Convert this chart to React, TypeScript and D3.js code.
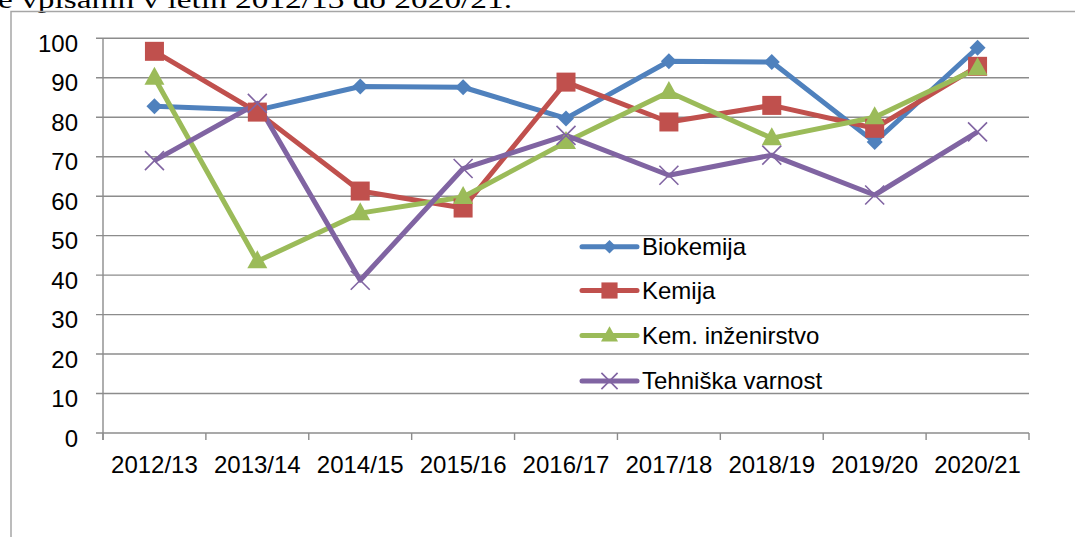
import React from "react";
import * as d3 from "d3";

const categories = ["2012/13", "2013/14", "2014/15", "2015/16", "2016/17", "2017/18", "2018/19", "2019/20", "2020/21"];
const biokemija = [82.8, 81.8, 87.8, 87.6, 79.7, 94.2, 94.0, 73.7, 97.6];
const kemija = [96.7, 81.3, 61.3, 57.0, 88.9, 78.8, 83.0, 77.2, 92.9];
const kemInz = [90.0, 43.5, 55.7, 59.8, 73.7, 86.4, 74.7, 80.0, 92.4];
const tehVarnost = [69.0, 83.5, 38.7, 67.0, 75.4, 65.3, 70.4, 60.3, 76.3];
const yTicks = [0, 10, 20, 30, 40, 50, 60, 70, 80, 90, 100];

const series = [
  { name: "Biokemija", values: biokemija, color: "#4F81BD", marker: "diamond" },
  { name: "Kemija", values: kemija, color: "#C0504D", marker: "square" },
  { name: "Kem. inženirstvo", values: kemInz, color: "#9BBB59", marker: "triangle" },
  { name: "Tehniška varnost", values: tehVarnost, color: "#8064A2", marker: "x" },
];

const W = 1075;
const H = 537;
const left = 103;
const right = 1029;
const top = 38.3;
const bottom = 433;
const font = "'Liberation Sans', Arial, sans-serif";

function Marker({ type, x, y, color, s = 1 }: { type: string; x: number; y: number; color: string; s?: number }) {
  if (type === "diamond") {
    const r = 8 * s;
    return <path d={`M${x},${y - r}L${x + r},${y}L${x},${y + r}L${x - r},${y}Z`} fill={color} />;
  }
  if (type === "square") {
    const h = 9.5 * s;
    return <rect x={x - h} y={y - h} width={2 * h} height={2 * h} fill={color} />;
  }
  if (type === "triangle") {
    const w = 10 * s;
    return <path d={`M${x},${y - 11 * s}L${x + w},${y + 7 * s}L${x - w},${y + 7 * s}Z`} fill={color} />;
  }
  const r = 9.5 * s;
  return (
    <path
      d={`M${x - r},${y - r}L${x + r},${y + r}M${x - r},${y + r}L${x + r},${y - r}`}
      stroke={color}
      strokeWidth={1.6}
      fill="none"
    />
  );
}

export default function App() {
  const x = d3.scaleBand<string>().domain(categories).range([left, right]);
  const y = d3.scaleLinear().domain([0, 100]).range([bottom, top]);
  const cx = (c: string) => (x(c) as number) + x.bandwidth() / 2;
  const line = d3
    .line<number>()
    .x((_, i) => cx(categories[i]))
    .y((v) => y(v));

  const boundaries = categories.map((c) => x(c) as number).concat([right]);
  const legendX0 = 582;
  const legendX1 = 637;
  const legendY = [246.7, 290.5, 335.5, 381];

  return (
    <svg
      width={W}
      height={H}
      style={{ position: "absolute", left: 0, top: 0, background: "#fff" }}
    >
      <text
        x={-2}
        y={8}
        fontFamily="'Liberation Serif', 'Times New Roman', serif"
        fontSize={26}
        textLength={514}
        lengthAdjust="spacingAndGlyphs"
        fill="#000"
      >
        e vpisanih v letih 2012/13 do 2020/21.
      </text>
      {/* frame */}
      <path d={`M11,${H}L11,11.5L${W},11.5`} stroke="#a6a6a6" strokeWidth={1.5} fill="none" />

      {/* gridlines */}
      {yTicks.map((t) => (
        <g key={t}>
          <line x1={96} x2={right} y1={y(t)} y2={y(t)} stroke="#8c8c8c" strokeWidth={1.4} />
          <text
            x={78}
            y={y(t) + 13.5}
            textAnchor="end"
            fontFamily={font}
            fontSize={24}
            fill="#000"
          >
            {t}
          </text>
        </g>
      ))}
      {/* y axis */}
      <line x1={left} x2={left} y1={top} y2={bottom + 7} stroke="#8c8c8c" strokeWidth={1.4} />
      {/* x ticks */}
      {boundaries.map((b, i) => (
        <line key={i} x1={b} x2={b} y1={bottom} y2={bottom + 7} stroke="#8c8c8c" strokeWidth={1.4} />
      ))}
      {categories.map((c) => (
        <text key={c} x={cx(c)} y={473} textAnchor="middle" fontFamily={font} fontSize={24} fill="#000">
          {c}
        </text>
      ))}

      {/* series */}
      {series.map((s) => (
        <path
          key={s.name}
          d={line(s.values) as string}
          fill="none"
          stroke={s.color}
          strokeWidth={5}
          strokeLinejoin="round"
        />
      ))}
      {series.map((s) => (
        <g key={s.name + "m"}>
          {s.values.map((v, i) => (
            <Marker key={i} type={s.marker} x={cx(categories[i])} y={y(v)} color={s.color} />
          ))}
        </g>
      ))}

      {/* legend */}
      {series.map((s, i) => (
        <g key={s.name + "l"}>
          <line
            x1={legendX0}
            x2={legendX1}
            y1={legendY[i]}
            y2={legendY[i]}
            stroke={s.color}
            strokeWidth={5}
            strokeLinecap="round"
          />
          <Marker type={s.marker} x={(legendX0 + legendX1) / 2} y={legendY[i]} color={s.color} s={0.85} />
          <text x={642} y={legendY[i] + 8} fontFamily={font} fontSize={24} fill="#000">
            {s.name}
          </text>
        </g>
      ))}
    </svg>
  );
}
